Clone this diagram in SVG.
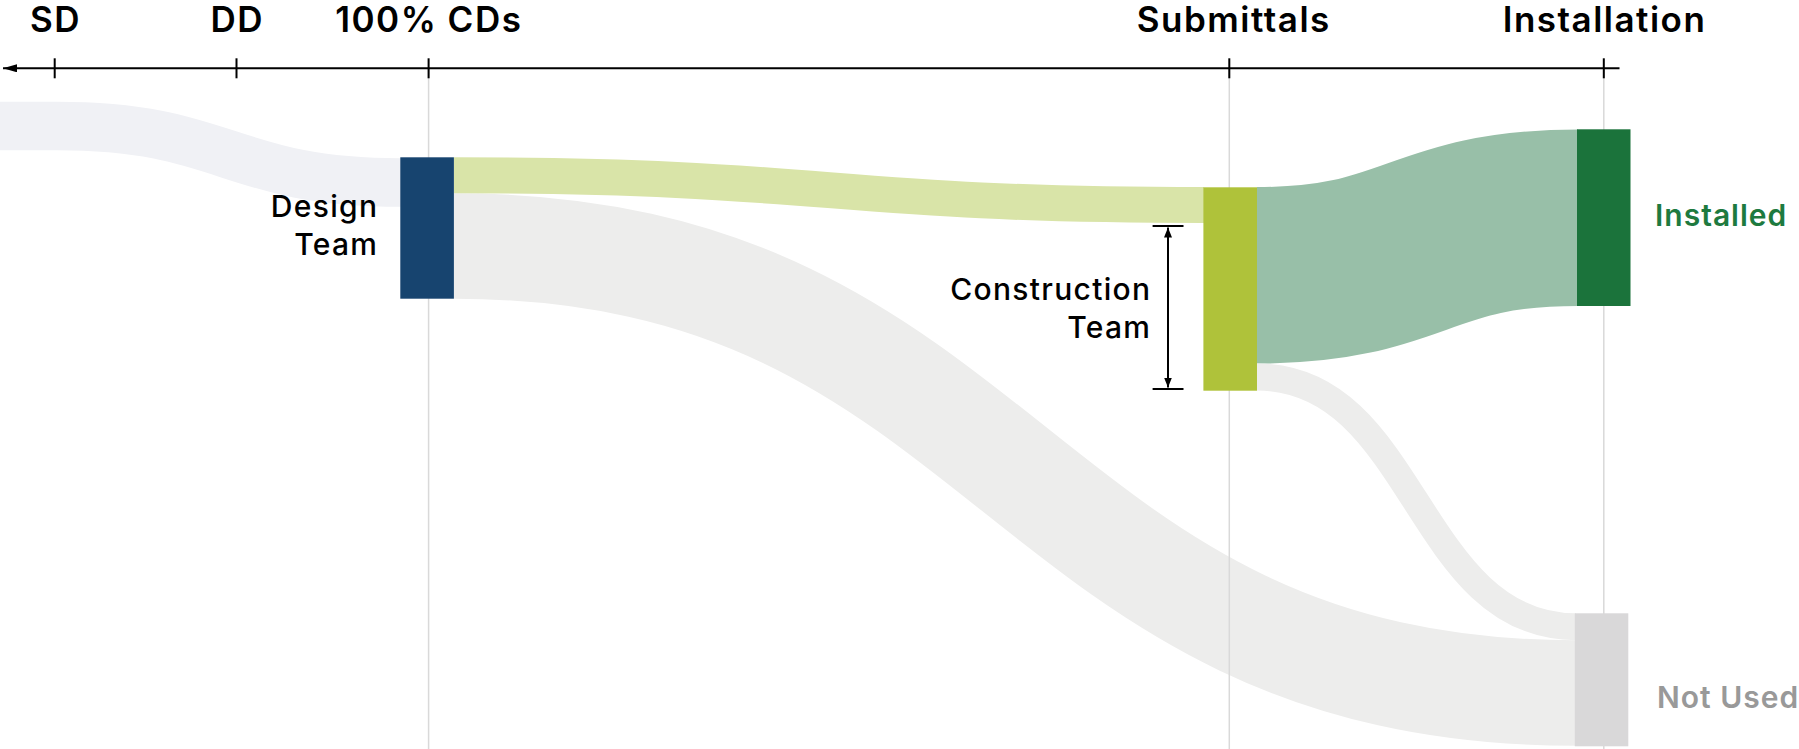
<svg xmlns="http://www.w3.org/2000/svg" width="1799" height="749" viewBox="0 0 1799 749">
<style>
.band{fill:none}
.grid{stroke:#d9d9d9;stroke-width:1.5}
.axis{stroke:#000;stroke-width:2;fill:none}
.ax{font-family:Inter,"Liberation Sans",sans-serif;font-weight:600;font-size:35px;letter-spacing:1.5px;fill:#000;text-anchor:middle}
.lbl{font-family:Inter,"Liberation Sans",sans-serif;font-weight:500;font-size:30px;letter-spacing:1.3px;fill:#000;text-anchor:end}
.out{font-family:Inter,"Liberation Sans",sans-serif;font-weight:600;font-size:30px;letter-spacing:1px}
</style>
<defs>
<marker id="ah" viewBox="0 0 10 10" refX="10" refY="5" markerWidth="10" markerHeight="10" markerUnits="userSpaceOnUse" orient="auto-start-reverse">
<path d="M0,1 L10,5 L0,9 Z" fill="#000"/>
</marker>
<marker id="ah2" viewBox="0 0 14 8" refX="14" refY="4" markerWidth="14" markerHeight="8" markerUnits="userSpaceOnUse" orient="auto-start-reverse">
<path d="M0,0 L14,4 L0,8 Z" fill="#000"/>
</marker>
</defs>
<rect width="1799" height="749" fill="#fff"/>
<g id="connectors">
<path class="band" d="M-10,126 L57,126 C228,126 228,182.5 401,182.5" stroke="#f0f1f5" stroke-width="48.5"/>
<path class="band" d="M454,246 C1014.5,246 1014.5,693 1576,693" stroke="#ededec" stroke-width="105.5"/>
<path class="band" d="M454,175.3 C829,175.3 829,205 1204,205" stroke="#d9e4a8" stroke-width="36"/>
<path class="band" d="M1257,275.3 C1417,275.3 1417,217.7 1578,217.7" stroke="#98bfa8" stroke-width="176.5"/>
<path class="band" d="M1257,377 C1416,377 1416,626.7 1576,626.7" stroke="#ededec" stroke-width="27"/>
</g>
<g id="gridlines">
<line class="grid" x1="428.6" y1="68" x2="428.6" y2="749"/>
<line class="grid" x1="1229.3" y1="68" x2="1229.3" y2="749"/>
<line class="grid" x1="1603.8" y1="68" x2="1603.8" y2="749"/>
</g>
<g id="axis">
<line class="axis" x1="1619.5" y1="68.3" x2="3" y2="68.3" marker-end="url(#ah2)"/>
<line class="axis" x1="54.7" y1="58.3" x2="54.7" y2="78.3"/>
<line class="axis" x1="236.5" y1="58.3" x2="236.5" y2="78.3"/>
<line class="axis" x1="428.6" y1="58.3" x2="428.6" y2="78.3"/>
<line class="axis" x1="1229.3" y1="58.3" x2="1229.3" y2="78.3"/>
<line class="axis" x1="1603.8" y1="58.3" x2="1603.8" y2="78.3"/>
<text class="ax" x="55.5" y="32.3">SD</text>
<text class="ax" x="237.3" y="32.3">DD</text>
<text class="ax" x="428.8" y="32.3">100% CDs</text>
<text class="ax" x="1233.8" y="32.3">Submittals</text>
<text class="ax" x="1604.5" y="32.3">Installation</text>
</g>
<g id="design-team">
<rect x="400.3" y="157.3" width="53.6" height="141.4" fill="#17446f"/>
<text class="lbl" x="378.3" y="216.7">Design</text>
<text class="lbl" x="378.3" y="255">Team</text>
</g>
<g id="construction-team">
<rect x="1203.4" y="187.3" width="53.6" height="203.4" fill="#afc23a"/>
<text class="lbl" x="1151.3" y="300">Construction</text>
<text class="lbl" x="1151.3" y="338.3">Team</text>
<line class="axis" x1="1168" y1="240" x2="1168" y2="375" stroke-width="1.5"/>
<line class="axis" x1="1168" y1="300" x2="1168" y2="227.5" stroke-width="1.5" marker-end="url(#ah)"/>
<line class="axis" x1="1168" y1="300" x2="1168" y2="387.5" stroke-width="1.5" marker-end="url(#ah)"/>
<line class="axis" x1="1152.6" y1="226" x2="1183.5" y2="226"/>
<line class="axis" x1="1152.6" y1="389" x2="1183.5" y2="389"/>
</g>
<g id="installed">
<rect x="1577" y="129.3" width="53.5" height="176.7" fill="#1b733b"/>
<text class="out" x="1655" y="226" fill="#1e7a3f">Installed</text>
</g>
<g id="not-used">
<rect x="1574.8" y="613.3" width="53.5" height="133" fill="#d9d8d9"/>
<text class="out" x="1657" y="708.3" fill="#999999">Not Used</text>
</g>
</svg>
